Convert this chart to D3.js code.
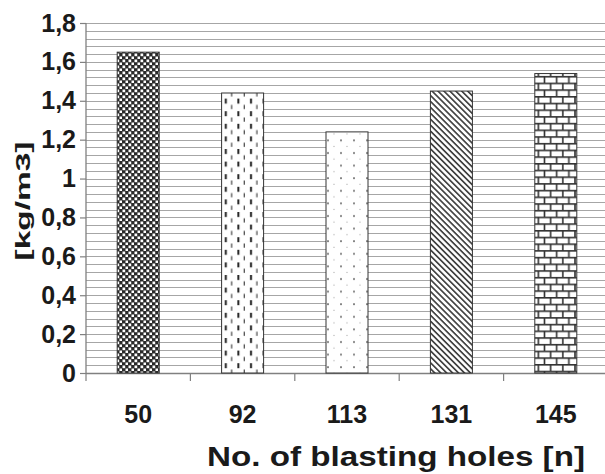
<!DOCTYPE html>
<html>
<head>
<meta charset="utf-8">
<script src="https://cdn.jsdelivr.net/npm/d3@7"></script>
<style>
  body { margin: 0; background: #fff; }
  text { font-family: 'Liberation Sans', Arial, sans-serif; font-weight: bold; fill: #1a1a1a; }
</style>
</head>
<body>
<div id="chart"></div>
<script>
const holes = ['50', '92', '113', '131', '145']
const values = [1.65, 1.44, 1.24, 1.45, 1.54]
const fills = ['checker', 'dashes', 'dots', 'diag', 'bricks']
const yTicks = [0, 0.2, 0.4, 0.6, 0.8, 1, 1.2, 1.4, 1.6, 1.8]

const margin = { top: 23, left: 86, right: -3, bottom: 101 }
const width = 605 - margin.left - margin.right
const height = 474 - margin.top - margin.bottom

const svg = d3
  .select('#chart')
  .append('svg')
  .attr('width', 605)
  .attr('height', 474)

const defs = svg.append('defs')

// checkerboard
const p1 = defs.append('pattern').attr('id', 'checker')
  .attr('patternUnits', 'userSpaceOnUse').attr('width', 6).attr('height', 6)
p1.append('rect').attr('width', 6).attr('height', 6).attr('fill', '#2a2a2a')
p1.append('rect').attr('x', 0.5).attr('y', 0.5).attr('width', 2.7).attr('height', 2.7).attr('fill', '#fff')
p1.append('rect').attr('x', 3.5).attr('y', 3.5).attr('width', 2.7).attr('height', 2.7).attr('fill', '#fff')

// vertical dashes
const p2 = defs.append('pattern').attr('id', 'dashes')
  .attr('patternUnits', 'userSpaceOnUse').attr('width', 12.6).attr('height', 12.6)
  .attr('x', 222)
p2.append('rect').attr('width', 12.6).attr('height', 12.6).attr('fill', '#fff')
p2.append('rect').attr('x', 5).attr('y', 0).attr('width', 2).attr('height', 5).attr('fill', '#222')
p2.append('rect').attr('x', 11.3).attr('y', 6.3).attr('width', 1.2).attr('height', 4.2).attr('fill', '#444')

// dots
const p3 = defs.append('pattern').attr('id', 'dots')
  .attr('patternUnits', 'userSpaceOnUse').attr('width', 13).attr('height', 12.6)
  .attr('x', 326)
p3.append('rect').attr('width', 13).attr('height', 12.6).attr('fill', '#fff')
p3.append('circle').attr('cx', 7).attr('cy', 4).attr('r', 1).attr('fill', '#777')
p3.append('circle').attr('cx', 13).attr('cy', 10).attr('r', 0.6).attr('fill', '#999')
p3.append('circle').attr('cx', 0).attr('cy', 10).attr('r', 0.6).attr('fill', '#999')

// diagonal stripes (top-left to bottom-right)
const p4 = defs.append('pattern').attr('id', 'diag')
  .attr('patternUnits', 'userSpaceOnUse').attr('width', 4.2).attr('height', 4.2)
  .attr('patternTransform', 'rotate(45)')
p4.append('rect').attr('width', 4.2).attr('height', 4.2).attr('fill', '#fff')
p4.append('rect').attr('x', 0).attr('y', 0).attr('width', 4.2).attr('height', 1.7).attr('fill', '#444')

// bricks
const bw = 12.2
const bh = 6.7
const p5 = defs.append('pattern').attr('id', 'bricks')
  .attr('patternUnits', 'userSpaceOnUse').attr('width', bw).attr('height', bh * 2)
  .attr('x', 535).attr('y', 73)
p5.append('rect').attr('width', bw).attr('height', bh * 2).attr('fill', '#fff')
p5.append('rect').attr('x', 0).attr('y', 0).attr('width', bw).attr('height', 1.6).attr('fill', '#333')
p5.append('rect').attr('x', 0).attr('y', bh).attr('width', bw).attr('height', 1.6).attr('fill', '#333')
p5.append('rect').attr('x', 2).attr('y', 0).attr('width', 1.6).attr('height', bh).attr('fill', '#333')
p5.append('rect').attr('x', 8.1).attr('y', bh).attr('width', 1.6).attr('height', bh).attr('fill', '#333')

const g = svg.append('g')
  .attr('transform', 'translate(' + margin.left + ',' + margin.top + ')')

const yScale = d3.scaleLinear().domain([0, 1.8]).range([height, 0])

const xScale = d3.scaleBand().domain(holes).range([0, 522]).paddingInner(0).paddingOuter(0)

// grid lines every 0.04
const gridVals = d3.range(1, 46).map(i => +(i * 0.04).toFixed(2))
g.selectAll('.grid')
  .data(gridVals)
  .enter()
  .append('line')
  .attr('class', 'grid')
  .attr('x1', 0)
  .attr('x2', width + 10)
  .attr('y1', d => Math.round(yScale(d)) + 0.5)
  .attr('y2', d => Math.round(yScale(d)) + 0.5)
  .attr('stroke', '#a6a6a6')
  .attr('stroke-width', 1.2)

// y axis
const yAxis = d3.axisLeft(yScale)
  .tickValues(yTicks)
  .tickSize(6)
  .tickPadding(4)
  .tickFormat(d => String(d).replace('.', ','))

const yg = g.append('g').call(yAxis)
yg.select('.domain').attr('stroke', '#808080').attr('stroke-width', 1.3).attr('d', 'M0,0V' + height)
yg.selectAll('.tick line').attr('stroke', '#808080').attr('stroke-width', 1.2)
yg.selectAll('.tick text')
  .attr('font-size', 25)
  .attr('font-family', "'Liberation Sans', Arial, sans-serif")
  .attr('font-weight', 'bold')
  .attr('fill', '#1a1a1a')

// x axis
g.append('line')
  .attr('x1', 0)
  .attr('x2', width + 10)
  .attr('y1', height + 0.5)
  .attr('y2', height + 0.5)
  .attr('stroke', '#808080')
  .attr('stroke-width', 1.3)

const xBounds = holes.map(d => xScale(d)).concat([xScale.range()[1]])
g.selectAll('.xtick')
  .data(xBounds)
  .enter()
  .append('line')
  .attr('class', 'xtick')
  .attr('x1', d => d)
  .attr('x2', d => d)
  .attr('y1', height)
  .attr('y2', height + 8)
  .attr('stroke', '#808080')
  .attr('stroke-width', 1.2)

// bars
const barW = 42
g.selectAll('.bar')
  .data(values)
  .enter()
  .append('rect')
  .attr('class', 'bar')
  .attr('x', (d, i) => xScale(holes[i]) + (xScale.bandwidth() - barW) / 2)
  .attr('y', d => yScale(d))
  .attr('width', barW)
  .attr('height', d => height - yScale(d))
  .attr('fill', (d, i) => 'url(#' + fills[i] + ')')
  .attr('stroke', '#333')
  .attr('stroke-width', 1)

g.selectAll('.xlabel')
  .data(holes)
  .enter()
  .append('text')
  .attr('class', 'xlabel')
  .attr('x', d => xScale(d) + xScale.bandwidth() / 2)
  .attr('y', height + 50)
  .attr('text-anchor', 'middle')
  .attr('font-size', 25)
  .text(d => d)

svg.append('text')
  .attr('x', 396)
  .attr('y', 466)
  .attr('text-anchor', 'middle')
  .attr('font-size', 27)
  .attr('textLength', 378)
  .attr('lengthAdjust', 'spacingAndGlyphs')
  .text('No. of blasting holes [n]')

svg.append('text')
  .attr('transform', 'translate(30,' + 201 + ') rotate(-90)')
  .attr('text-anchor', 'middle')
  .attr('font-size', 21)
  .attr('textLength', 119)
  .attr('lengthAdjust', 'spacingAndGlyphs')
  .text('[kg/m3]')
</script>
</body>
</html>
